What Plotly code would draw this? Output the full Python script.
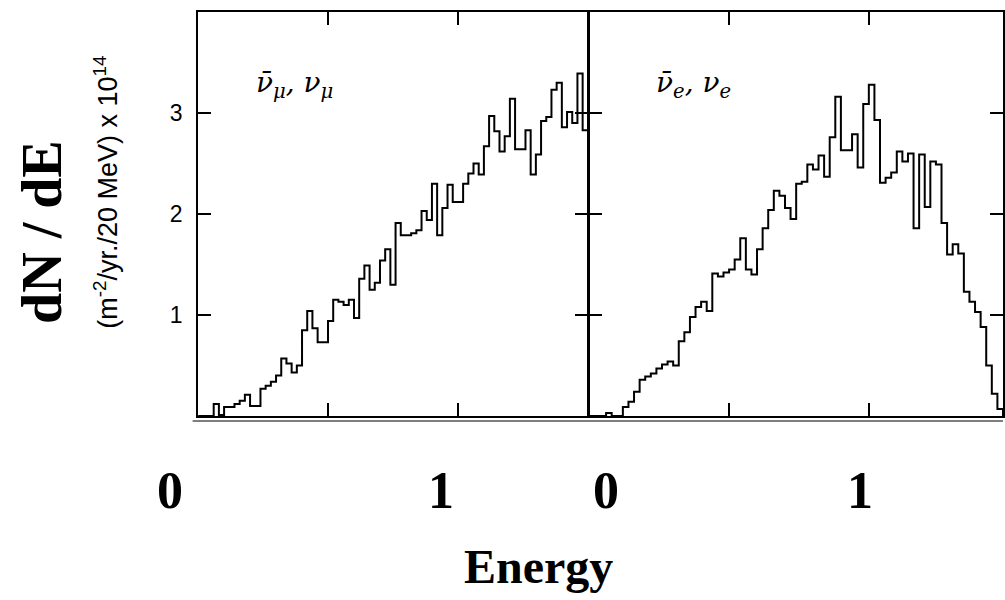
import plotly.graph_objects as go

# ---------------- data ----------------
bin_width = 0.02  # GeV (20 MeV bins)

# nu_mu-bar, nu_mu  : dN/dE per 20 MeV bin, starting at E = 0
numu_counts = [0.00, 0.00, 0.00, 0.12, 0.01, 0.09, 0.09, 0.12, 0.15, 0.21,
               0.10, 0.10, 0.27, 0.30, 0.34, 0.40, 0.57, 0.52, 0.43, 0.50,
               0.85, 1.04, 0.87, 0.73, 0.73, 0.94, 1.15, 1.13, 1.10, 1.15,
               0.97, 1.36, 1.49, 1.25, 1.32, 1.54, 1.65, 1.30, 1.91, 1.79,
               1.79, 1.81, 1.84, 2.03, 1.94, 2.30, 1.79, 2.06, 2.29, 2.12,
               2.12, 2.30, 2.40, 2.50, 2.39, 2.67, 2.97, 2.82, 2.62, 2.77,
               3.14, 2.64, 2.64, 2.83, 2.39, 2.59, 2.92, 2.96, 3.23, 3.30,
               2.86, 3.01, 2.90, 3.39, 2.83]

# nu_e-bar, nu_e
nue_counts = [0.00, 0.00, 0.00, 0.03, 0.00, 0.00,
              0.09, 0.14, 0.24, 0.36, 0.39, 0.42, 0.47, 0.51, 0.54, 0.50,
              0.74, 0.83, 0.98, 1.08, 1.13, 1.04, 1.41, 1.38, 1.42, 1.45,
              1.55, 1.76, 1.45, 1.40, 1.65, 1.86, 2.04, 2.23, 2.18, 2.06,
              1.95, 2.30, 2.32, 2.49, 2.44, 2.58, 2.37, 2.76, 3.16, 2.63,
              2.63, 2.79, 2.46, 3.09, 3.28, 2.93, 2.31, 2.36, 2.41, 2.62,
              2.52, 2.60, 1.86, 2.59, 2.07, 2.52, 2.49, 1.91, 1.60, 1.70,
              1.61, 1.23, 1.13, 1.03, 0.88, 0.50, 0.22, 0.07, 0.00]

y_tickvals = [1, 2, 3]
y_ticktext = ["1", "2", "3"]
x_tickvals = [0.5, 1.0]
panel_labels = ["<i>ν\u0304<sub>μ</sub>, ν<sub>μ</sub></i>", "<i>ν\u0304<sub>e</sub>, ν<sub>e</sub></i>"]
energy_labels = ["0", "1", "0", "1"]


def step_xy(counts):
    edges = [i * bin_width for i in range(len(counts) + 1)]
    return edges, list(counts) + [counts[-1]]


fig = go.Figure()
for counts, xa, ya in [(numu_counts, "x", "y"), (nue_counts, "x2", "y2")]:
    xs, ys = step_xy(counts)
    fig.add_trace(go.Scatter(x=xs, y=ys, mode="lines", line_shape="hv",
                             line=dict(color="black", width=2),
                             xaxis=xa, yaxis=ya, showlegend=False,
                             hoverinfo="skip"))

W, H = 1005, 600
ydom = [1 - 416 / H, 1 - 12 / H]

axis_common = dict(showline=True, linecolor="black", linewidth=2,
                   ticks="inside", ticklen=13, tickwidth=1.5,
                   tickcolor="black", showgrid=False, zeroline=False,
                   mirror="ticks")

fig.update_layout(
    width=W, height=H, margin=dict(l=0, r=0, t=0, b=0),
    paper_bgcolor="white", plot_bgcolor="white",
    xaxis=dict(domain=[198.5 / W, 589 / W], range=[0, 1.5],
               tickvals=x_tickvals, showticklabels=False, **axis_common),
    yaxis=dict(domain=ydom, range=[0, 4], tickvals=y_tickvals,
               ticktext=y_ticktext, ticklabelstandoff=9,
               tickfont=dict(family="Liberation Sans", size=23, color="black"),
               **axis_common),
    xaxis2=dict(domain=[590.5 / W, 1.0], range=[0, 1.48], anchor="y2",
                tickvals=x_tickvals, showticklabels=False, **axis_common),
    yaxis2=dict(domain=ydom, range=[0, 4], anchor="x2",
                tickvals=y_tickvals, showticklabels=False, **axis_common),
)

# second (scan) baseline just below the panels
fig.add_shape(type="line", xref="paper", yref="paper",
              x0=193 / W, x1=1.0, y0=1 - 421 / H, y1=1 - 421 / H,
              line=dict(color="#555555", width=1.5))

serif_bold = "Liberation Serif"
ann = []


def add_text(text, xp, yp, font, angle=0):
    ann.append(dict(text=text, x=xp / W, y=1 - yp / H, xref="paper", yref="paper",
                    xanchor="center", yanchor="middle", showarrow=False,
                    textangle=angle, font=font))


# panel labels
for lab, xp in zip(panel_labels, [295, 695]):
    add_text(lab, xp, 84, dict(family="DejaVu Serif", size=28, color="black"))
# energy tick labels (hand placed in the original)
for lab, xp in zip(energy_labels, [170, 442, 607, 862]):
    add_text("<b>" + lab + "</b>", xp, 490, dict(family=serif_bold, size=52, color="black"))
add_text("<b>Energy</b>", 540, 566, dict(family=serif_bold, size=48, color="black"))
add_text("<b>dN / dE</b>", 42, 232, dict(family=serif_bold, size=56, color="black"), -90)
add_text("(m<sup>-2</sup>/yr./20 MeV) x 10<sup>14</sup>", 106, 192,
         dict(family="Liberation Sans", size=27, color="black"), -90)
fig.update_layout(annotations=ann)

fig.write_html("out.html", config={"displayModeBar": False},
               post_script="document.body.style.margin='0px';")
